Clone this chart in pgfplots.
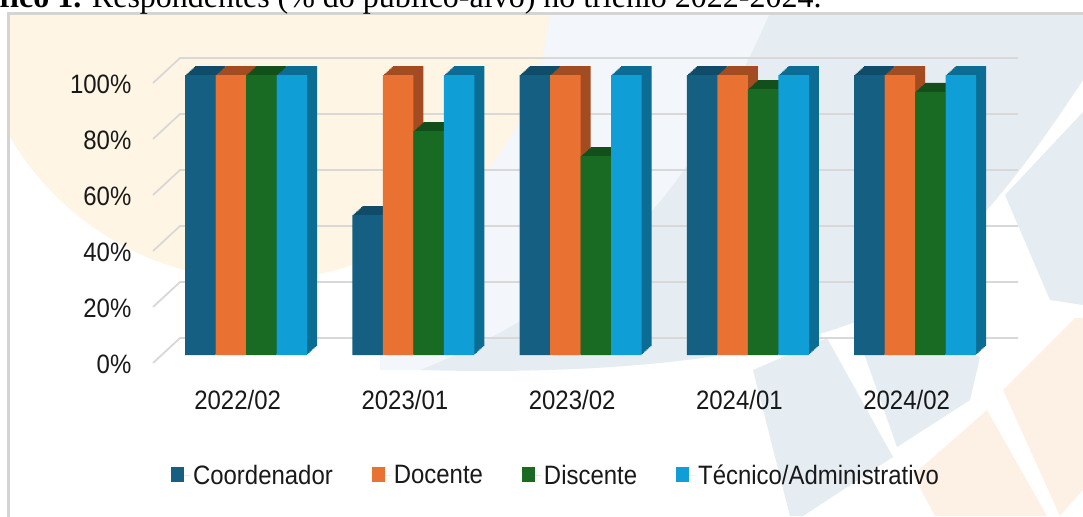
\documentclass[border=0pt]{standalone}
\usepackage{pgfplots}
\pgfplotsset{compat=1.18}
\usepackage{pgfplotstable}
\usepackage{fontspec}
\setmainfont{Liberation Sans}[FakeStretch=0.9]
\newfontfamily\titlefont{Liberation Serif}

\definecolor{coord}{HTML}{156082}
\definecolor{doc}{HTML}{E97132}
\definecolor{disc}{HTML}{196B24}
\definecolor{tec}{HTML}{0F9ED5}
\definecolor{coordD}{HTML}{104B67}
\definecolor{docD}{HTML}{A34C22}
\definecolor{discD}{HTML}{124F1A}
\definecolor{tecD}{HTML}{0B6D93}
\definecolor{gridc}{HTML}{D8D8D8}
\definecolor{framec}{HTML}{D4D4D4}
\definecolor{cream}{HTML}{FEF5E4}
\definecolor{bglight}{HTML}{F3F6FA}
\definecolor{bgblue}{HTML}{E5ECF2}
\definecolor{peach}{HTML}{FDF1E5}

\pgfplotstableread{
x coord doc disc tec
0 100 100 100 100
1 50 100 80 100
2 100 100 71 100
3 100 100 95 100
4 100 100 94 100
}\data

\pgfplotsset{sqlegend/.style={legend image code/.code={\fill[##1] (0pt,-2.9pt) rectangle (6.5pt,4.6pt); \path (0pt,0pt) -- (9.5pt,0pt);}}}

\begin{document}
\begin{tikzpicture}
\useasboundingbox (0,0) rectangle (541.5pt,-258pt);
\clip (0,0) rectangle (541.5pt,-258pt);
\begin{scope}[x=0.5pt,y=-0.5pt]
  \fill[white] (0,0) rectangle (1083,516);
  \begin{scope}
    \clip (8,13) rectangle (1083,516);
    \fill[bglight] (380,13) -- (770,13) .. controls (700,170) and (620,290) .. (420,370) -- (380,370) -- cycle;
    \fill[bgblue] (770,13) -- (1083,13) -- (1083,80) .. controls (1030,160) and (960,260) .. (860,320) .. controls (760,360) and (600,375) .. (420,370) .. controls (620,290) and (700,170) .. (770,13) -- cycle;
    \fill[bgblue] (1005,195) -- (1083,112) -- (1083,305) -- (1050,300) -- cycle;
    \fill[bgblue] (753,370) -- (827,338) -- (893,457) -- (803,516) -- (790,516) -- cycle;
    \fill[bgblue] (853,322) -- (980,357) -- (970,400) -- (897,447) -- cycle;
    \fill[peach] (1003,390) -- (1075,318) -- (1083,318) -- (1083,490) -- (1060,516) -- cycle;
    \fill[peach] (913,475) -- (987,410) -- (1047,516) -- (935,516) -- cycle;
    \fill[cream] (260,-10) circle (290);
  \end{scope}
  \draw[framec, line width=1.5pt] (8,600) -- (8,13) -- (1200,13);
  \node[anchor=base east, inner sep=0pt, font=\titlefont\fontsize{16pt}{19pt}\selectfont] at (822,7)
    {\textbf{Gráfico 1.} Respondentes (\% do público-alvo) no triênio 2022-2024.};
\end{scope}

\begin{axis}[
  at={(81.2pt,-177.5pt)}, anchor=south west,
  scale only axis, width=418.125pt, height=140pt,
  xmin=-0.5, xmax=4.5, ymin=0, ymax=100,
  clip=false,
  axis line style={draw=none},
  major tick length=0pt,
  xtick={0,...,4},
  xticklabels={2022/02,2023/01,2023/02,2024/01,2024/02},
  ytick={0,20,...,100},
  yticklabel={\pgfmathprintnumber{\tick}\%},
  /pgf/number format/assume math mode=true,
  tick label style={font=\fontsize{13.3pt}{16pt}\selectfont, text=black!90},
  yticklabel style={xshift=-12pt, yshift=-4.5pt},
  xticklabel style={xshift=-4.2pt, yshift=-14pt},
  legend columns=4,
  legend cell align=left,
  legend style={at={(0.4713,-0.432)}, anchor=center, draw=none, fill=none,
    font=\fontsize{13.3pt}{16pt}\selectfont, text=black!90, inner sep=0pt,
    nodes={inner sep=1.5pt},
    /tikz/every even column/.append style={column sep=18pt}},
]
\pgfplotsinvokeforeach{0,20,...,100}{
  \draw[gridc, line width=0.9pt] ([yshift=-4pt]axis cs:-0.556,#1) -- ([yshift=8.5pt]axis cs:-0.3946,#1) -- ([yshift=8.5pt]axis cs:4.616,#1);
}
\pgfplotsinvokeforeach{1,...,8}{
  \addplot[ybar, bar width=15.25pt, bar shift=-22.875pt, fill=coordD, draw=none, forget plot, xshift=#1*0.625pt, yshift=#1*0.5625pt] table[x=x,y=coord]{\data};
}
\pgfplotsinvokeforeach{1,...,8}{
  \addplot[ybar, bar width=15.25pt, bar shift=-7.625pt, fill=docD, draw=none, forget plot, xshift=#1*0.625pt, yshift=#1*0.5625pt] table[x=x,y=doc]{\data};
}
\pgfplotsinvokeforeach{1,...,8}{
  \addplot[ybar, bar width=15.25pt, bar shift=7.625pt, fill=discD, draw=none, forget plot, xshift=#1*0.625pt, yshift=#1*0.5625pt] table[x=x,y=disc]{\data};
}
\pgfplotsinvokeforeach{1,...,8}{
  \addplot[ybar, bar width=15.25pt, bar shift=22.875pt, fill=tecD, draw=none, forget plot, xshift=#1*0.625pt, yshift=#1*0.5625pt] table[x=x,y=tec]{\data};
}
\addplot[ybar, bar width=15.25pt, bar shift=-22.875pt, fill=coord, draw=none, sqlegend] table[x=x,y=coord]{\data};
\addplot[ybar, bar width=15.25pt, bar shift=-7.625pt, fill=doc, draw=none, sqlegend] table[x=x,y=doc]{\data};
\addplot[ybar, bar width=15.25pt, bar shift=7.625pt, fill=disc, draw=none, sqlegend] table[x=x,y=disc]{\data};
\addplot[ybar, bar width=15.25pt, bar shift=22.875pt, fill=tec, draw=none, sqlegend] table[x=x,y=tec]{\data};
\legend{Coordenador,Docente,Discente,Técnico/Administrativo}
\end{axis}
\end{tikzpicture}
\end{document}
